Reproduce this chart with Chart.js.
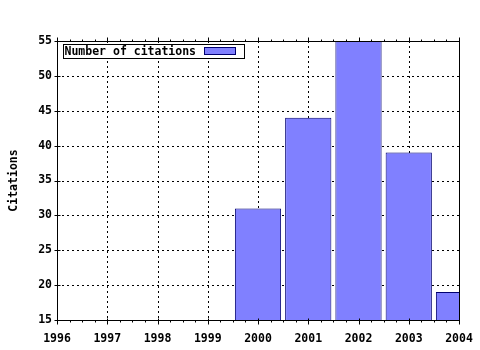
<!DOCTYPE html>
<html>
<head>
<meta charset="utf-8">
<script src="https://cdn.jsdelivr.net/npm/chart.js@4.4.0/dist/chart.umd.min.js"></script>
<style>
html,body{margin:0;padding:0;background:#fff;}
canvas{display:block;}
</style>
</head>
<body>
<canvas id="c" width="480" height="350"></canvas>
<script>
const years = ['1996','1997','1998','1999','2000','2001','2002','2003','2004'];
const citations = [null, null, null, null, 31, 44, 55, 39, 19];
const yTicks = [15, 20, 25, 30, 35, 40, 45, 50, 55];
const seriesLabel = 'Number of citations';
const axisTitle = 'Citations';

const FONT = {family: '"DejaVu Sans Mono", monospace', size: 11.5, weight: 'bold'};
const FILL = '#8080ff';
const EDGE = '#000070';

const gridPlugin = {
  id: 'dotgrid',
  beforeDatasetsDraw(chart) {
    const ctx = chart.ctx;
    const a = chart.chartArea;
    const xs = chart.scales.x, ys = chart.scales.y;
    ctx.save();
    ctx.strokeStyle = '#000';
    ctx.lineWidth = 1;
    ctx.setLineDash([2, 3]);
    ctx.beginPath();
    for (let i = 1; i < years.length - 1; i++) {
      const px = Math.round(xs.getPixelForValue(i)) + 0.5;
      ctx.moveTo(px, Math.round(a.top));
      ctx.lineTo(px, Math.round(a.bottom));
    }
    yTicks.slice(1, -1).forEach(v => {
      const py = Math.round(ys.getPixelForValue(v)) + 0.5;
      ctx.moveTo(Math.round(a.left), py);
      ctx.lineTo(Math.round(a.right), py);
    });
    ctx.stroke();
    ctx.restore();
  }
};

const framePlugin = {
  id: 'frame',
  afterDatasetsDraw(chart) {
    const ctx = chart.ctx;
    const a = chart.chartArea;
    const xs = chart.scales.x, ys = chart.scales.y;
    const L = Math.round(a.left) + 0.5, R = Math.round(a.right) + 0.5;
    const T = Math.round(a.top) + 0.5, B = Math.round(a.bottom) + 0.5;
    ctx.save();
    ctx.strokeStyle = '#000';
    ctx.lineWidth = 1;
    ctx.setLineDash([]);
    ctx.strokeRect(L, T, R - L, B - T);
    ctx.beginPath();
    for (let i = 0; i < years.length; i++) {
      for (let q = 0; q < 4; q++) {
        const v = i + q / 4;
        if (v > years.length - 1) break;
        const px = Math.round(xs.getPixelForValue(v)) + 0.5;
        if (q === 0) {
          ctx.moveTo(px, B - 2); ctx.lineTo(px, B + 4);
          ctx.moveTo(px, T - 4); ctx.lineTo(px, T);
        } else {
          ctx.moveTo(px, B); ctx.lineTo(px, B + 2);
          ctx.moveTo(px, T - 2); ctx.lineTo(px, T);
        }
      }
    }
    yTicks.forEach(v => {
      const py = Math.round(ys.getPixelForValue(v)) + 0.5;
      ctx.moveTo(L - 3, py); ctx.lineTo(L + 3, py);
    });
    ctx.stroke();

    const ds = chart.data.datasets[0];
    const bx = Math.round(a.left) + 6.5, by = Math.round(a.top) + 3.5;
    const bw = 181, bh = 14;
    ctx.fillStyle = '#fff';
    ctx.fillRect(bx, by, bw, bh);
    ctx.strokeRect(bx, by, bw, bh);
    ctx.fillStyle = '#000';
    ctx.font = 'bold 11.5px "DejaVu Sans Mono", monospace';
    ctx.textBaseline = 'middle';
    ctx.textAlign = 'left';
    ctx.fillText(ds.label, bx + 1, by + bh / 2 + 0.5);
    ctx.fillStyle = ds.backgroundColor;
    ctx.fillRect(bx + 141, by + 3, 31, 7);
    ctx.strokeStyle = ds.borderColor;
    ctx.strokeRect(bx + 141, by + 3, 31, 7);
    ctx.restore();
  }
};

new Chart(document.getElementById('c'), {
  type: 'bar',
  data: {
    labels: years,
    datasets: [{
      label: seriesLabel,
      data: citations,
      backgroundColor: FILL,
      borderColor: EDGE,
      borderWidth: 1,
      borderSkipped: false,
      categoryPercentage: 1.0,
      barPercentage: 0.92
    }]
  },
  options: {
    responsive: false,
    animation: false,
    devicePixelRatio: 1,
    layout: {padding: {left: 0, right: 21, top: 41, bottom: 0}},
    plugins: {legend: {display: false}, tooltip: {enabled: false}},
    scales: {
      x: {
        type: 'category',
        offset: false,
        grid: {offset: false, display: false, drawTicks: false},
        border: {display: false},
        ticks: {color: '#000', font: FONT, padding: 12, maxRotation: 0, autoSkip: false},
        afterFit(s) { s.height = 30; s.paddingLeft = 0; s.paddingRight = 0; }
      },
      y: {
        min: 15, max: 55,
        grid: {display: false, drawTicks: false},
        border: {display: false},
        ticks: {color: '#000', font: FONT, padding: 5, stepSize: 5},
        title: {display: true, text: axisTitle, color: '#000', font: FONT, padding: {top: 7, bottom: 0}},
        afterFit(s) { s.width = 57; s.paddingTop = 0; s.paddingBottom = 0; }
      }
    }
  },
  plugins: [gridPlugin, framePlugin]
});
</script>
</body>
</html>
